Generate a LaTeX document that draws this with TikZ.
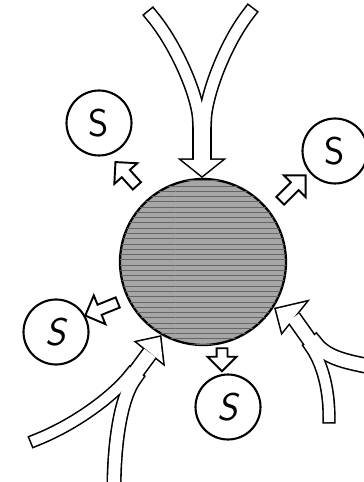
\documentclass[tikz,border=0pt]{standalone}
\usetikzlibrary{shapes.arrows,patterns}

\tikzset{
  sbox/.style={draw, circle, line width=1.2pt, minimum size=1.3cm, inner sep=0pt,
    font=\sffamily\fontsize{22}{24}\selectfont},
  outarrow/.style={draw, single arrow, fill=white, line width=1.1pt, inner xsep=0pt,
    inner ysep=0.09cm, single arrow head extend=0.2cm, line join=miter},
  flowedge/.style={line width=#1+1.8pt, line cap=rect, draw=black},
  flowfill/.style={line width=#1, line cap=rect, draw=white},
  headedge/.style={fill=black, draw=black, line width=1.8pt, line join=miter},
  headfill/.style={fill=white},
}

% both layers of the three inflows
\newcommand\drawflows[2]{%
  % top
  \draw[#1=6.2pt] (ta) .. controls +(25,30) and +(0,-24) .. (tm1);
  \draw[#1=6.2pt] (tb) .. controls +(-25,32) and +(0,-24) .. (tm2);
  \draw[#1=9.6pt, line cap=butt] (tm) -- (th);
  \path[#2] (th) ++(-20,0) -- ++(40,0) -- ++(-20,16) -- cycle;
  % lower left
  \draw[#1=5.7pt] (la) .. controls +(38,-15) and +(-18,23) .. (lm1);
  \draw[#1=6.8pt] (lb) .. controls +(0,-50) and +(-14,18) .. (lm2);
  \draw[#1=8pt, line cap=butt] (lm) -- (lh);
  \path[#2] (137,342) -- (160,337) -- (163,363) -- cycle;
  % lower right
  \draw[#1=5.7pt] (ra) .. controls +(0,-32) and +(10,14) .. (rm1);
  \draw[#1=7.4pt] (rb) .. controls +(-22,-5) and +(12,16) .. (rm2);
  \draw[#1=7.4pt, line cap=butt] (rm) -- (rh);
  \path[#2] (276,309) -- (282,332) -- (306,302) -- cycle;
}

\begin{document}
\begin{tikzpicture}[x=0.02cm, y=-0.02cm]
  \useasboundingbox (0,0) rectangle (364,482);
  \clip (0,0) rectangle (364,482);

  \node[circle, draw, line width=1.3pt, fill=black!35, minimum size=3.32cm, inner sep=0pt,
    postaction={pattern=horizontal lines, pattern color=black!60}] (cell) at (203,262) {};

  \coordinate (ta) at (152,16); \coordinate (tb) at (249,13);
  \coordinate (tm1) at (199,122); \coordinate (tm2) at (205,122);
  \coordinate (tm) at (202,122); \coordinate (th) at (202,160);
  \coordinate (la) at (36,440); \coordinate (lb) at (114,490);
  \coordinate (lm1) at (130.6,374.1); \coordinate (lm2) at (135.4,377.9);
  \coordinate (lm) at (133,376); \coordinate (lh) at (150,353);
  \coordinate (ra) at (329,417); \coordinate (rb) at (372,367);
  \coordinate (rm1) at (310.6,346.8); \coordinate (rm2) at (315.4,343.2);
  \coordinate (rm) at (313,345); \coordinate (rh) at (293.5,317.5);

  \drawflows{flowedge}{headedge}
  \drawflows{flowfill}{headfill}

  \node[sbox] (s1) at (99,123) {S};
  \node[sbox] (s2) at (335,151) {S};
  \node[sbox] (s3) at (56,332) {\itshape S};
  \node[sbox] (s4) at (228,407) {\itshape S};

  \node[outarrow, minimum height=0.64cm, rotate=132] (o1) at (128,176) {};
  \node[outarrow, minimum height=0.72cm, rotate=45] (o2) at (291,190) {};
  \node[outarrow, minimum height=0.7cm, rotate=202] (o3) at (104,308) {};
  \node[outarrow, minimum height=0.46cm, single arrow head extend=0.18cm, rotate=-90] (o4) at (222,357) {};
\end{tikzpicture}
\end{document}
